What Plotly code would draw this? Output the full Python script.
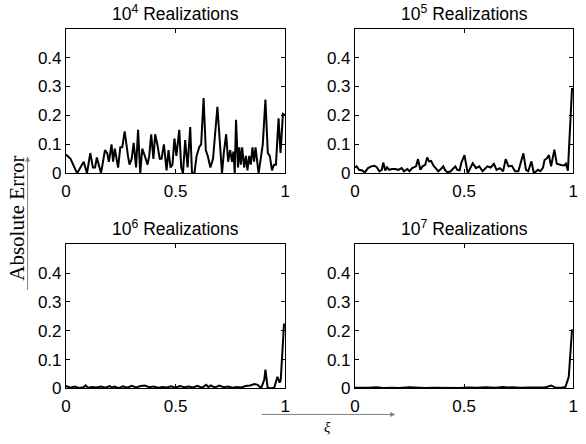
import plotly.graph_objects as go

# ---------------- data ----------------
xi_1e4 = [0.0, 0.021, 0.051, 0.081, 0.096, 0.111, 0.123, 0.133, 0.141, 0.160,
          0.178, 0.188, 0.196, 0.208, 0.215, 0.223, 0.238, 0.248, 0.257, 0.268,
          0.283, 0.290, 0.300, 0.309, 0.320, 0.329, 0.339, 0.348, 0.360, 0.372,
          0.380, 0.389, 0.399, 0.407, 0.417, 0.428, 0.436, 0.447, 0.459, 0.468,
          0.477, 0.486, 0.495, 0.504, 0.517, 0.526, 0.534, 0.544, 0.555, 0.567,
          0.575, 0.586, 0.596, 0.608, 0.617, 0.628, 0.638, 0.647, 0.659, 0.671,
          0.691, 0.701, 0.712, 0.720, 0.731, 0.740, 0.749, 0.758, 0.764, 0.770,
          0.776, 0.785, 0.791, 0.798, 0.804, 0.813, 0.821, 0.828, 0.836, 0.843,
          0.851, 0.858, 0.865, 0.879, 0.888, 0.898, 0.910, 0.921, 0.930, 0.940,
          0.949, 0.958, 0.970, 0.979, 0.990, 1.0]
err_1e4 = [0.065, 0.05, 0.0, 0.04, 0.0, 0.07, 0.02, 0.02, 0.055, 0.0,
           0.08, 0.07, 0.04, 0.1, 0.04, 0.085, 0.02, 0.09, 0.09, 0.145,
           0.06, 0.03, 0.05, 0.105, 0.02, 0.15, 0.0, 0.085, 0.06, 0.03,
           0.06, 0.135, 0.05, 0.135, 0.1, 0.05, 0.05, 0.1, 0.01, 0.08,
           0.02, 0.03, 0.12, 0.06, 0.15, 0.02, 0.0, 0.115, 0.02, 0.16,
           0.0, 0.0, 0.06, 0.09, 0.1, 0.26, 0.08, 0.06, 0.02, 0.05,
           0.23, 0.1, 0.0, 0.07, 0.135, 0.04, 0.08, 0.04, 0.075, 0.0,
           0.185, 0.02, 0.09, 0.03, 0.09, 0.02, 0.06, 0.01, 0.06, 0.03,
           0.09, 0.04, 0.09, 0.0, 0.05, 0.1, 0.255, 0.07, 0.06, 0.01,
           0.03, 0.03, 0.19, 0.07, 0.205, 0.2]

xi_1e5 = [0.0, 0.008, 0.019, 0.034, 0.045, 0.06, 0.075, 0.09, 0.1, 0.112,
          0.123, 0.13, 0.139, 0.147, 0.157, 0.169, 0.184, 0.199, 0.214, 0.225,
          0.24, 0.25, 0.262, 0.274, 0.28, 0.289, 0.3, 0.31, 0.322, 0.331,
          0.34, 0.349, 0.36, 0.37, 0.382, 0.394, 0.405, 0.412, 0.424, 0.439,
          0.45, 0.46, 0.469, 0.48, 0.487, 0.502, 0.517, 0.54, 0.555, 0.57,
          0.585, 0.607, 0.622, 0.637, 0.649, 0.664, 0.679, 0.691, 0.704, 0.719,
          0.734, 0.749, 0.772, 0.784, 0.794, 0.809, 0.82, 0.839, 0.85, 0.862,
          0.869, 0.88, 0.889, 0.899, 0.914, 0.925, 0.944, 0.959, 0.967, 0.976,
          0.995]
err_1e5 = [0.02, 0.024, 0.012, 0.01, 0.003, 0.018, 0.024, 0.026, 0.021, 0.007,
           0.012, 0.037, 0.01, 0.021, 0.012, 0.015, 0.015, 0.012, 0.018, 0.007,
           0.015, 0.007, 0.018, 0.021, 0.024, 0.049, 0.012, 0.024, 0.029, 0.055,
           0.041, 0.043, 0.026, 0.018, 0.007, 0.015, 0.024, 0.012, 0.003, 0.007,
           0.018, 0.024, 0.012, 0.01, 0.035, 0.063, 0.0, 0.035, 0.018, 0.024,
           0.007, 0.024, 0.02, 0.033, 0.012, 0.018, 0.007, 0.049, 0.024, 0.026,
           0.007, 0.007, 0.069, 0.012, 0.007, 0.041, 0.0, 0.012, 0.007, 0.02,
           0.046, 0.052, 0.063, 0.024, 0.082, 0.033, 0.029, 0.027, 0.033, 0.009,
           0.295]

xi_1e6 = [0.0, 0.02, 0.04, 0.06, 0.08, 0.09, 0.1, 0.12, 0.14, 0.16,
          0.18, 0.2, 0.21, 0.22, 0.24, 0.26, 0.28, 0.3, 0.32, 0.34,
          0.36, 0.38, 0.4, 0.42, 0.44, 0.46, 0.48, 0.5, 0.52, 0.54,
          0.56, 0.58, 0.6, 0.62, 0.64, 0.65, 0.66, 0.68, 0.7, 0.72,
          0.74, 0.76, 0.78, 0.8, 0.82, 0.84, 0.86, 0.875, 0.89, 0.905,
          0.91, 0.92, 0.935, 0.95, 0.965, 0.975, 0.98, 0.995]
err_1e6 = [0.008, 0.002, 0.006, 0.001, 0.004, 0.01, 0.002, 0.005, 0.003, 0.006,
           0.002, 0.008, 0.003, 0.006, 0.001, 0.007, 0.002, 0.009, 0.003, 0.008,
           0.01, 0.004, 0.006, 0.002, 0.005, 0.003, 0.007, 0.002, 0.008, 0.004,
           0.006, 0.003, 0.009, 0.002, 0.012, 0.004, 0.01, 0.003, 0.01, 0.004,
           0.006, 0.002, 0.005, 0.003, 0.008, 0.01, 0.015, 0.012, 0.0, 0.03,
           0.065, 0.003, 0.0, 0.002, 0.04, 0.02, 0.03, 0.225]

xi_1e7 = [0.0, 0.03, 0.06, 0.1, 0.13, 0.17, 0.2, 0.25, 0.28, 0.32,
          0.36, 0.4, 0.44, 0.48, 0.52, 0.56, 0.6, 0.64, 0.68, 0.7,
          0.72, 0.76, 0.8, 0.84, 0.87, 0.9, 0.92, 0.95, 0.965, 0.98, 0.995]
err_1e7 = [0.002, 0.001, 0.002, 0.004, 0.001, 0.002, 0.001, 0.004, 0.002, 0.001,
           0.002, 0.001, 0.002, 0.001, 0.003, 0.002, 0.004, 0.002, 0.005, 0.003,
           0.004, 0.002, 0.003, 0.004, 0.003, 0.01, 0.002, 0.003, 0.005, 0.04, 0.205]

exponents = ["4", "5", "6", "7"]
x_ticks = [0, 0.5, 1]
x_ticklabels = ["0", "0.5", "1"]
y_ticks = [0, 0.1, 0.2, 0.3, 0.4]
y_ticklabels = ["0", "0.1", "0.2", "0.3", "0.4"]

series = [(xi_1e4, err_1e4), (xi_1e5, err_1e5), (xi_1e6, err_1e6), (xi_1e7, err_1e7)]

# ---------------- layout ----------------
W, H = 586, 444
x_domains = [[62 / W, 285 / W], [356 / W, 578 / W]]
y_domains = [[1 - 177.3 / H, 1 - 29.3 / H], [1 - 397.3 / H, 1 - 250 / H]]

sans = "Liberation Sans, Arial, sans-serif"
serif = "Liberation Serif, DejaVu Serif, serif"
tick_font = dict(family=sans, size=17, color="black")

fig = go.Figure()
annotations = []
for i, ((xs, ys), ex) in enumerate(zip(series, exponents)):
    col = i % 2
    row = i // 2
    n = i + 1
    xa = "x" if n == 1 else f"x{n}"
    ya = "y" if n == 1 else f"y{n}"
    fig.add_trace(go.Scatter(x=xs, y=ys, mode="lines", xaxis=xa, yaxis=ya,
                             line=dict(color="black", width=2), showlegend=False))
    axis_common = dict(showline=True, linecolor="black", linewidth=1, mirror="ticks",
                       ticks="inside", ticklen=4, tickcolor="black", showgrid=False,
                       zeroline=False, tickfont=tick_font)
    fig.layout[("xaxis" if n == 1 else f"xaxis{n}")] = dict(
        domain=x_domains[col], range=[0, 1], anchor=ya, ticklabelstandoff=2,
        tickvals=x_ticks, ticktext=x_ticklabels, **axis_common)
    fig.layout[("yaxis" if n == 1 else f"yaxis{n}")] = dict(
        domain=y_domains[row], range=[0, 0.5], anchor=xa, ticklabelstandoff=0,
        tickvals=y_ticks, ticktext=y_ticklabels, **axis_common)
    annotations.append(dict(
        text=f"10<sup>{ex}</sup> Realizations", xref="paper", yref="paper",
        x=(x_domains[col][0] + x_domains[col][1]) / 2, y=y_domains[row][1],
        xanchor="center", yanchor="bottom", yshift=3, showarrow=False,
        font=dict(family=sans, size=17.5, color="black")))

# axis labels with arrows
annotations.append(dict(text="Absolute Error", xref="paper", yref="paper",
                        x=12 / W, y=1 - 223 / H, textangle=-90, showarrow=False,
                        xanchor="center", yanchor="middle",
                        font=dict(family=serif, size=21, color="black")))
annotations.append(dict(text="", xref="paper", yref="paper", axref="pixel", ayref="pixel",
                        x=23 / W, y=1 - 160 / H, ax=0, ay=135, showarrow=True,
                        arrowhead=2, arrowsize=1, arrowwidth=1, arrowcolor="#808080"))
annotations.append(dict(text="<i>ξ</i>", xref="paper", yref="paper",
                        x=328 / W, y=0, yshift=-3, showarrow=False,
                        xanchor="center", yanchor="bottom",
                        font=dict(family=serif, size=15, color="black")))
annotations.append(dict(text="", xref="paper", yref="paper", axref="pixel", ayref="pixel",
                        x=397 / W, y=1 - 424 / H, ax=-135, ay=0, showarrow=True,
                        arrowhead=2, arrowsize=1, arrowwidth=1, arrowcolor="#808080"))

fig.update_layout(width=W, height=H, margin=dict(l=0, r=0, t=0, b=0),
                  paper_bgcolor="white", plot_bgcolor="white",
                  annotations=annotations)

fig.write_html("out.html")
